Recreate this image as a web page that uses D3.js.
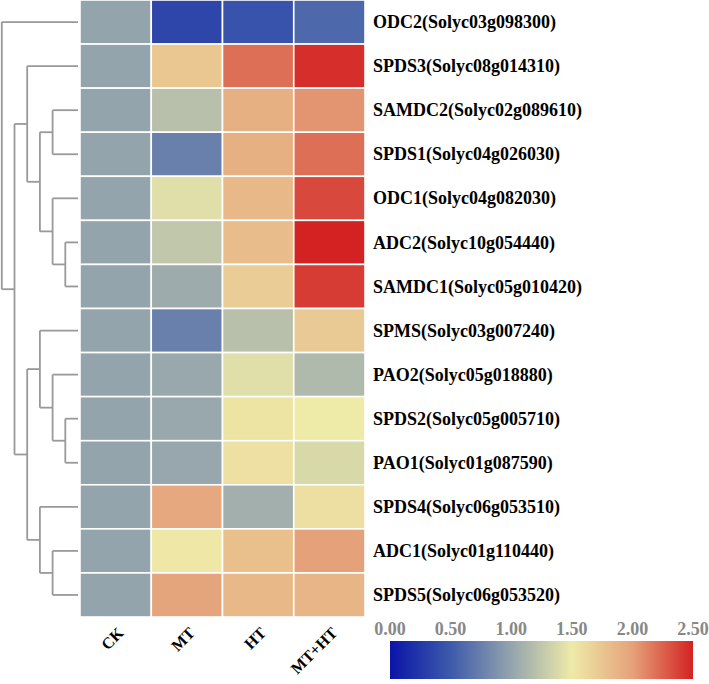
<!DOCTYPE html>
<html><head><meta charset="utf-8">
<script src="https://cdn.jsdelivr.net/npm/d3@7"></script>
<style>body{margin:0;background:#fff}svg{display:block}</style>
</head><body>
<svg id="chart" width="709" height="684"></svg>
<script>
const genes = ["ODC2(Solyc03g098300)","SPDS3(Solyc08g014310)","SAMDC2(Solyc02g089610)","SPDS1(Solyc04g026030)","ODC1(Solyc04g082030)","ADC2(Solyc10g054440)","SAMDC1(Solyc05g010420)","SPMS(Solyc03g007240)","PAO2(Solyc05g018880)","SPDS2(Solyc05g005710)","PAO1(Solyc01g087590)","SPDS4(Solyc06g053510)","ADC1(Solyc01g110440)","SPDS5(Solyc06g053520)"];
const treatments = ["CK","MT","HT","MT+HT"];
const valCK    = [1,1,1,1,1,1,1,1,1,1,1,1,1,1];
const valMT    = [0.35,1.75,1.2,0.75,1.42,1.25,1.05,0.75,1.03,1.03,1.02,1.95,1.52,1.98];
const valHT    = [0.45,2.2,1.9,1.9,1.85,1.82,1.7,1.2,1.42,1.55,1.57,1.08,1.8,1.85];
const valMTHT  = [0.6,2.45,2.05,2.2,2.35,2.5,2.4,1.72,1.15,1.5,1.38,1.58,2.0,1.87];
const colorTicks = [0,0.5,1.0,1.5,2.0,2.5];
const colorStops = [0,0.5,1,1.5,2,2.5];
const colorValues = ["#0a14a8","#3d5aab","#94a4ad","#eeeaa8","#e5a27a","#d42222"];
// dendrogram: merge heights and children (leaf = row index)
const tree = {h:6, c:[{leaf:0},{h:5, c:[
  {h:4, c:[{leaf:1},{h:3, c:[{h:2, c:[{leaf:2},{leaf:3}]},{h:2, c:[{leaf:4},{h:1, c:[{leaf:5},{leaf:6}]}]}]}]},
  {h:4, c:[{h:3, c:[{leaf:7},{h:2, c:[{leaf:8},{h:1, c:[{leaf:9},{leaf:10}]}]}]},{h:3, c:[{leaf:11},{h:2, c:[{leaf:12},{leaf:13}]}]}]}
]}]};

const series = [valCK, valMT, valHT, valMTHT];
const svg = d3.select("#chart");
const x = d3.scaleBand().domain(treatments).range([80,365]);
const y = d3.scaleBand().domain(d3.range(genes.length)).range([0,617]);
const color = d3.scaleLinear().domain(colorStops).range(colorValues).clamp(true);
const hx = d3.scaleLinear().domain([0,6]).range([78,1.8]);
const serif = "'Liberation Serif','Times New Roman',serif";

const cells = [];
treatments.forEach((t,j)=>genes.forEach((g,i)=>cells.push({t,i,v:series[j][i]})));
svg.append("g").selectAll("rect").data(cells).join("rect")
  .attr("x",d=>x(d.t)).attr("y",d=>y(d.i))
  .attr("width",x.bandwidth()).attr("height",y.bandwidth())
  .attr("fill",d=>color(d.v)).attr("stroke","#fff").attr("stroke-width",1.6);

// row labels
svg.append("g").selectAll("text").data(genes).join("text")
  .attr("x",373).attr("y",(d,i)=>y(i)+y.bandwidth()/2).attr("dy","0.34em")
  .attr("font-family",serif).attr("font-weight","bold")
  .attr("font-size",18).attr("fill","#000").text(d=>d);

// column labels: diagonal (-45deg), glyph positions laid out along the diagonal
const ctx = document.createElement("canvas").getContext("2d");
ctx.font = "bold 16px 'Liberation Serif'";
const u = Math.SQRT1_2;
function diagPos(label, ax, ay){
  const widths = Array.from(label).map(ch=>ctx.measureText(ch).width);
  const W = d3.sum(widths);
  let off = 0; const xs = [], ys = [];
  widths.forEach(w=>{ const s = off - W; xs.push((ax + s*u).toFixed(2)); ys.push((ay - s*u).toFixed(2)); off += w; });
  return {xs:xs.join(" "), ys:ys.join(" ")};
}
svg.append("g").selectAll("text").data(treatments).join("text")
  .each(function(d){
    const p = diagPos(d, x(d)+x.bandwidth()/2+9, 634);
    d3.select(this).attr("x",p.xs).attr("y",p.ys).attr("rotate",Array.from(d).map(()=>-45).join(" "));
  })
  .attr("font-family",serif).attr("font-weight","bold")
  .attr("font-size",16).attr("fill","#000").text(d=>d);

// dendrogram
const gd = svg.append("g").attr("fill","none").attr("stroke","#999").attr("stroke-width",1.8);
function layout(n){
  if(n.leaf!==undefined){ return {y:y(n.leaf)+y.bandwidth()/2, x:hx(0)}; }
  const ch = n.c.map(layout);
  const px = hx(n.h);
  ch.forEach(c=>gd.append("line").attr("x1",px).attr("x2",c.x).attr("y1",c.y).attr("y2",c.y));
  gd.append("line").attr("x1",px).attr("x2",px).attr("y1",ch[0].y).attr("y2",ch[ch.length-1].y);
  return {x:px, y:(ch[0].y+ch[ch.length-1].y)/2};
}
layout(tree);

// colorbar
const cb = d3.scaleLinear().domain([0,2.5]).range([390,693]);
const defs = svg.append("defs");
const grad = defs.append("linearGradient").attr("id","cbar");
colorStops.forEach((s,i)=>grad.append("stop").attr("offset",(s/2.5*100)+"%").attr("stop-color",colorValues[i]));
svg.append("rect").attr("x",cb(0)).attr("y",641).attr("width",cb(2.5)-cb(0)).attr("height",38).attr("fill","url(#cbar)");
svg.append("g").selectAll("text").data(colorTicks).join("text")
  .attr("x",d=>cb(d)).attr("y",635).attr("text-anchor","middle")
  .attr("font-family",serif).attr("font-weight","bold")
  .attr("font-size",18).attr("fill","#888").text(d=>d.toFixed(2));
</script>
</body></html>
